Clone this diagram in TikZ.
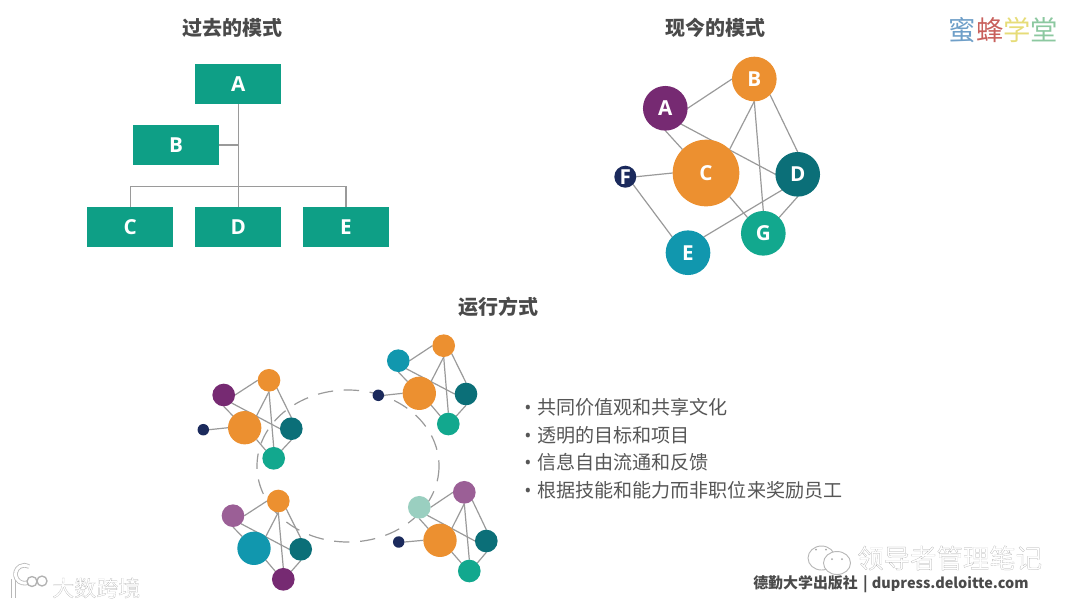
\documentclass[tikz,border=0pt]{standalone}
\usepackage{fontspec}
\usetikzlibrary{backgrounds}
\newfontfamily\cjk{Noto Sans CJK SC}
\newfontfamily\cjkout[FakeBold=0.6]{Noto Sans CJK SC}
\newfontfamily\lett{Open Sans}
\definecolor{boxgreen}{HTML}{0E9F86}
\definecolor{ora}{HTML}{EC9030}
\definecolor{pur}{HTML}{762A72}
\definecolor{lpur}{HTML}{9B5F96}
\definecolor{nav}{HTML}{1B2A5C}
\definecolor{dteal}{HTML}{0B6F78}
\definecolor{tea}{HTML}{1197AE}
\definecolor{gre}{HTML}{12A88E}
\definecolor{lgre}{HTML}{9ACFC0}
\definecolor{edgegray}{HTML}{9A9A9A}
\definecolor{titlegray}{HTML}{4A4A4A}
\definecolor{bodygray}{HTML}{565656}
\tikzset{
  boxn/.style={fill=boxgreen,text=white,minimum width=64.5pt,minimum height=30pt,inner sep=0pt,outer sep=0pt,font=\lett\bfseries\fontsize{15.5}{17}\selectfont},
  bign/.style={circle,fill=#1,text=white,minimum size=33.5pt,inner sep=0pt,outer sep=0pt,font=\lett\bfseries\fontsize{15.5}{17}\selectfont},
  hugen/.style={bign=#1,minimum size=50pt},
  tinyn/.style={bign=#1,minimum size=16.5pt},
  smalln/.style={circle,fill=#1,minimum size=17pt,inner sep=0pt,outer sep=0pt},
  midn/.style={smalln=#1,minimum size=25pt},
  pointn/.style={smalln=#1,minimum size=8.6pt},
  conn/.style={draw=edgegray,line width=0.9pt},
  titlen/.style={text=titlegray,inner sep=0pt,font=\cjk\bfseries\fontsize{15}{17}\selectfont},
  bulletn/.style={text=bodygray,inner sep=0pt,anchor=west,font=\cjk\fontsize{14.3}{17}\selectfont},
  logon/.style={inner sep=0pt,font=\cjk\fontsize{20.5}{22}\selectfont},
  markn/.style={inner sep=0pt,font=\cjkout\fontsize{#1}{#1}\selectfont},
  bubble/.style={draw=black!28,fill=white,line width=0.7pt},
  markunder/.style={draw=black!28,line width=3.4pt},
  markover/.style={draw=white,line width=2.2pt}
}
\newcommand{\outl}[1]{\special{pdf:bcolor [1 1 1] [0.66 0.66 0.66]}#1\special{pdf:ecolor}}
\newcommand{\bul}{{\lett •}\hspace{4.4pt}}
\begin{document}
\begin{tikzpicture}[x=0.75pt,y=-0.75pt]
\useasboundingbox (0,0) rectangle (1080,608);
% titles
\node[titlen] (t1) at (232,28) {过去的模式};
\node[titlen] (t2) at (715.5,28) {现今的模式};
\node[titlen] (t3) at (498,306.5) {运行方式};
% hierarchy
\node[boxn] (hA) at (238.3,84) {A};
\node[boxn] (hB) at (176,145) {B};
\node[boxn] (hC) at (130.3,227) {C};
\node[boxn] (hD) at (238.3,227) {D};
\node[boxn] (hE) at (346,227) {E};
\coordinate (hJ1) at (hA.south |- hB.east);
\coordinate (hJ2) at (238.3,186.5);
\draw[conn] (hA.south) -- (hD.north);
\draw[conn] (hB.east) -- (hJ1);
\draw[conn] (hC.north) |- (hJ2) -| (hE.north);
% network
\node[bign=pur] (nA) at (665.3,108.3) {A};
\node[bign=ora] (nB) at (754.3,79) {B};
\node[hugen=ora] (nC) at (706,173) {C};
\node[bign=dteal] (nD) at (797.7,174.3) {D};
\node[bign=tea] (nE) at (688,252.7) {E};
\node[tinyn=nav] (nF) at (625.3,176.7) {F};
\node[bign=gre] (nG) at (763.3,233.3) {G};
% cluster left
\node[smalln=pur] (lA) at (223.7,395) {};
\node[smalln=ora] (lB) at (269,380.3) {};
\node[midn=ora] (lC) at (244.7,427.7) {};
\node[smalln=dteal] (lD) at (291.3,428.7) {};
\node[smalln=gre] (lG) at (273.7,458.3) {};
\node[pointn=nav] (lF) at (203.3,429.7) {};
% cluster top right
\node[smalln=tea] (rA) at (398.3,360.7) {};
\node[smalln=ora] (rB) at (443.7,345.7) {};
\node[midn=ora] (rC) at (419.3,393.3) {};
\node[smalln=dteal] (rD) at (466,394) {};
\node[smalln=gre] (rG) at (448.3,424) {};
\node[pointn=nav] (rF) at (378.3,395.3) {};
% cluster bottom left
\node[smalln=lpur] (bA) at (233,515.7) {};
\node[smalln=ora] (bB) at (278.3,501) {};
\node[midn=tea] (bC) at (254,548.3) {};
\node[smalln=dteal] (bD) at (300.7,549.3) {};
\node[smalln=pur] (bG) at (283.3,579.3) {};
% cluster bottom right
\node[smalln=lgre] (cA) at (419.3,507.3) {};
\node[smalln=lpur] (cB) at (464.3,492.3) {};
\node[midn=ora] (cC) at (440,540.3) {};
\node[smalln=dteal] (cD) at (486.3,541) {};
\node[smalln=gre] (cG) at (469.3,571) {};
\node[pointn=nav] (cF) at (398.7,542) {};
\begin{scope}[on background layer]
  \draw[draw=edgegray,line width=0.9pt,dash pattern=on 11.5pt off 8pt] (348,466) ellipse [x radius=91,y radius=76];
  \foreach \p in {n,l,r,b,c}{
    \draw[conn] (\p A.0) -- (\p B.180);
    \draw[conn] (\p A.-90) -- (\p C.135);
    \draw[conn] (\p A.-45) -- (\p D.180);
    \draw[conn] (\p B.-90) -- (\p C.45);
    \draw[conn] (\p B.-90) -- (\p G.90);
    \draw[conn] (\p B.-45) -- (\p D.90);
    \draw[conn] (\p C.-45) -- (\p G.135);
    \draw[conn] (\p D.-90) -- (\p G.45);
  }
  \foreach \p in {n,l,r,c}{\draw[conn] (\p C.180) -- (\p F.0);}
  \draw[conn] (nD.-135) -- (nE.45);
  \draw[conn] (nF.-45) -- (nE.135);
\end{scope}
% bullets
\node[bulletn] (b1) at (524,407) {\bul 共同价值观和共享文化};
\node[bulletn] (b2) at (524,435) {\bul 透明的目标和项目};
\node[bulletn] (b3) at (524,462) {\bul 信息自由流通和反馈};
\node[bulletn] (b4) at (524,490) {\bul 根据技能和能力而非职位来奖励员工};
% logo
\node[logon] (logo) at (1003.5,30) {\textcolor[HTML]{6F9FC8}{蜜}\textcolor[HTML]{C8605C}{蜂}\textcolor[HTML]{E6DC78}{学}\textcolor[HTML]{8CC8A0}{堂}};
% wechat mark
\draw[bubble] (821.5,558) ellipse [x radius=13.5,y radius=12];
\draw[bubble] (837,563) ellipse [x radius=13.5,y radius=11.5];
\fill[black!35] (816,549.5) circle (1) (826,549.5) circle (1) (832,559) circle (1) (842,559) circle (1);
\node[markn=19.8,anchor=west] (wm1) at (857,558) {\outl{领导者管理笔记}};
% source line
\node[inner sep=0pt,anchor=west,text=titlegray,font=\cjk\bfseries\fontsize{11.2}{13}\selectfont] (src) at (753,584) {德勤大学出版社\hspace{1.5pt} | \hspace{0.5pt}{\fontsize{10.85}{13}\selectfont dupress.deloitte.com}};
% corner mark
\draw[markunder] (13.5,579) -- (13.5,598);
\draw[markover] (13.5,579) -- (13.5,598);
\draw[markunder] (29,582) arc[start angle=60,end angle=300,radius=9];
\draw[markover] (29,582) arc[start angle=60,end angle=300,radius=9];
\draw[draw=black!30,fill=white,line width=1pt] (32,581.5) circle (5) (42,581) circle (5);
\node[markn=16.5,anchor=west] (wm2) at (52,588) {\outl{大数跨境}};
\end{tikzpicture}
\end{document}
